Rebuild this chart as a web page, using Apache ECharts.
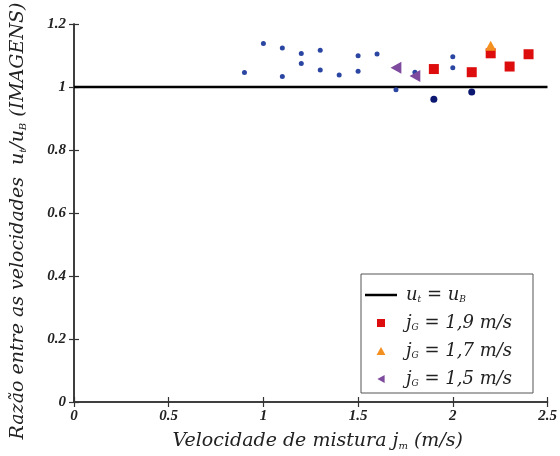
<!DOCTYPE html>
<html>
<head>
<meta charset="utf-8">
<script src="https://cdn.jsdelivr.net/npm/echarts@6/dist/echarts.min.js"></script>
<style>
  html, body { margin: 0; padding: 0; background: #fff; }
  #chart { width: 560px; height: 456px; }
</style>
</head>
<body>
<div id="chart"></div>
<script>
// Velocity ratio u_t/u_B vs mixture velocity j_m
const xTicks = [0, 0.5, 1, 1.5, 2, 2.5];
const yTicks = [0, 0.2, 0.4, 0.6, 0.8, 1, 1.2];

// reference line u_t = u_B
const refX = [0, 2.5];
const refY = [1, 1];

// image-based measurements (small blue points)
const blueX = [0.9, 1.0, 1.1, 1.1, 1.2, 1.2, 1.3, 1.3, 1.4, 1.5, 1.5, 1.6, 1.7, 1.8, 2.0, 2.0];
const blueY = [1.046, 1.138, 1.124, 1.033, 1.106, 1.075, 1.117, 1.054, 1.038, 1.099, 1.050, 1.105, 0.991, 1.047, 1.096, 1.061];

// darker navy points
const navyX = [1.9, 2.1];
const navyY = [0.961, 0.984];

// j_G = 1,9 m/s
const g19X = [1.9, 2.1, 2.2, 2.3, 2.4];
const g19Y = [1.057, 1.047, 1.107, 1.065, 1.104];

// j_G = 1,7 m/s
const g17X = [2.2];
const g17Y = [1.131];

// j_G = 1,5 m/s
const g15X = [1.7, 1.8];
const g15Y = [1.061, 1.035];

const zip = (xs, ys) => xs.map((x, i) => [x, ys[i]]);

const chart = echarts.init(document.getElementById('chart'));

const tickFont = {
  fontFamily: 'Liberation Serif',
  fontStyle: 'italic',
  fontWeight: 'bold',
  fontSize: 15,
  color: '#222'
};
const titleFamily = 'DejaVu Serif';

const frameLine = { show: true, lineStyle: { color: '#333', width: 1.5 } };
const inTick = { show: true, inside: true, length: 5, lineStyle: { color: '#333', width: 1.2 } };

const legendNames = {
  ut: '{i|u}{s|t}{i| = u}{s|B}',
  g19: '{i|j}{s|G}{i| = 1,9 m/s}',
  g17: '{i|j}{s|G}{i| = 1,7 m/s}',
  g15: '{i|j}{s|G}{i| = 1,5 m/s}'
};

const richTitle = {
  i: { fontFamily: titleFamily, fontStyle: 'italic', fontSize: 19, color: '#222' },
  s: { fontFamily: titleFamily, fontStyle: 'italic', fontSize: 10, color: '#222', padding: [9, 0, 0, 0] }
};
const richLegend = {
  i: { fontFamily: titleFamily, fontStyle: 'italic', fontSize: 18, color: '#222' },
  s: { fontFamily: titleFamily, fontStyle: 'italic', fontSize: 9, color: '#222', padding: [9, 0, 0, 0] }
};

chart.setOption({
  animation: false,
  backgroundColor: '#fff',
  grid: { left: 74, right: 12.5, top: 24, bottom: 51 },
  xAxis: [
    {
      type: 'value', min: 0, max: 2.5, interval: 0.5,
      axisLine: frameLine, axisTick: inTick, splitLine: { show: false },
      axisLabel: Object.assign({ margin: 7 }, tickFont),
      name: '{i|Velocidade de mistura j}{s|m}{i| (m/s)}',
      nameLocation: 'middle', nameGap: 30,
      nameTextStyle: { rich: richTitle, padding: [0, 0, 0, 14] }
    },
    {
      type: 'value', min: 0, max: 2.5, interval: 0.5, position: 'top',
      axisLine: frameLine, axisTick: inTick, axisLabel: { show: false }, splitLine: { show: false }
    }
  ],
  yAxis: [
    {
      type: 'value', min: 0, max: 1.2, interval: 0.2,
      axisLine: frameLine, axisTick: inTick, splitLine: { show: false },
      axisLabel: Object.assign({ margin: 8 }, tickFont),
      name: '{i|Razão entre as velocidades  u}{s|t}{i|/u}{s|B}{i| (IMAGENS)}',
      nameLocation: 'middle', nameGap: 46,
      nameTextStyle: { rich: richTitle, padding: [0, 16, 0, 0] }
    },
    {
      type: 'value', min: 0, max: 1.2, interval: 0.2, position: 'right',
      axisLine: frameLine, axisTick: inTick, axisLabel: { show: false }, splitLine: { show: false }
    }
  ],
  legend: {
    left: 361, top: 274,
    orient: 'vertical',
    padding: [10, 21, 3, 4],
    itemGap: 6,
    itemWidth: 32, itemHeight: 8,
    backgroundColor: '#fff',
    borderColor: '#555', borderWidth: 1,
    data: [
      { name: 'ut', icon: 'path://M0,0h32v2.5h-32z' },
      'g19', 'g17', 'g15'
    ],
    formatter: n => legendNames[n],
    textStyle: { rich: richLegend, lineHeight: 22, padding: [0, 0, 0, 4] }
  },
  series: [
    {
      name: 'ut', type: 'line', data: zip(refX, refY),
      symbol: 'none', symbolKeepAspect: true,
      lineStyle: { color: '#000', width: 2.5 }, itemStyle: { color: '#000' },
      z: 1
    },
    {
      name: 'blue', type: 'scatter', data: zip(blueX, blueY),
      symbol: 'circle', symbolSize: 5, itemStyle: { color: '#2a46a2', opacity: 1 }, z: 3
    },
    {
      name: 'navy', type: 'scatter', data: zip(navyX, navyY),
      symbol: 'circle', symbolSize: 7, itemStyle: { color: '#0b1770', opacity: 1 }, z: 3
    },
    {
      name: 'g19', type: 'scatter', data: zip(g19X, g19Y),
      symbol: 'path://M0,0h10v10h-10z', symbolKeepAspect: true, symbolSize: 10,
      itemStyle: { color: '#dd0d0d', opacity: 1 }, z: 4
    },
    {
      name: 'g17', type: 'scatter', data: zip(g17X, g17Y),
      symbol: 'path://M5,0L10,9L0,9z', symbolKeepAspect: true, symbolSize: 11,
      itemStyle: { color: '#f39020', opacity: 1 }, z: 4
    },
    {
      name: 'g15', type: 'scatter', data: zip(g15X, g15Y),
      symbol: 'path://M0,5L9,0L9,10z', symbolKeepAspect: true, symbolSize: 12,
      itemStyle: { color: '#7d4a9e', opacity: 1 }, z: 4
    }
  ]
});
</script>
</body>
</html>
